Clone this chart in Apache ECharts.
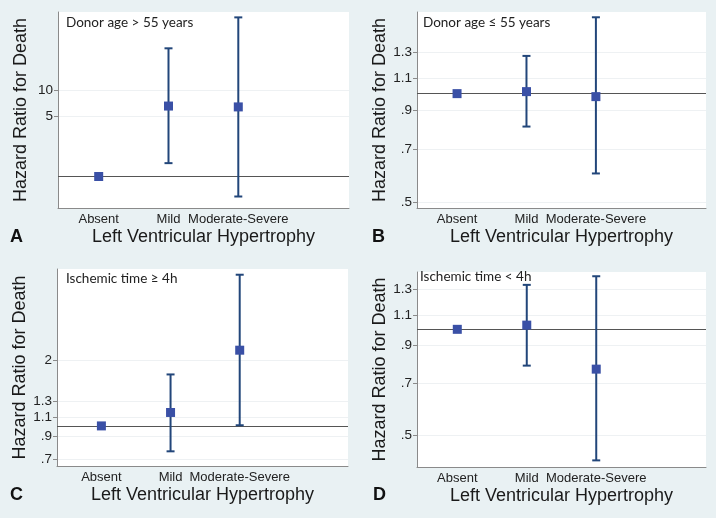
<!DOCTYPE html>
<html>
<head>
<meta charset="utf-8">
<script src="https://cdn.jsdelivr.net/npm/echarts@6/dist/echarts.min.js"></script>
<style>
html,body{margin:0;padding:0;background:#e9f1f3;}
#chart{width:716px;height:518px;}
</style>
</head>
<body>
<div id="chart"></div>
<script>
// ---- Data ----
const categories = ['Absent', 'Mild', 'Moderate-Severe'];

// Panel A: Donor age > 55 years
const hrA = [1, 6.6, 6.45];
const loA = [null, 1.43, 0.585];
const hiA = [null, 31, 71];
const ticksA = [5, 10];

// Panel B: Donor age <= 55 years
const hrB = [1, 1.013, 0.981];
const loB = [null, 0.81, 0.60];
const hiB = [null, 1.273, 1.63];
const ticksB = [0.5, 0.7, 0.9, 1.1, 1.3];

// Panel C: Ischemic time >= 4h
const hrC = [1, 1.153, 2.23];
const loC = [null, 0.764, 1.007];
const hiC = [null, 1.725, 4.96];
const ticksC = [0.7, 0.9, 1.1, 1.3, 2];

// Panel D: Ischemic time < 4h
const hrD = [1, 1.028, 0.770];
const loD = [null, 0.788, 0.423];
const hiD = [null, 1.339, 1.417];
const ticksD = [0.5, 0.7, 0.9, 1.1, 1.3];

const panelTitles = ['Donor age > 55 years', 'Donor age \u2264 55 years', 'Ischemic time \u2265 4h', 'Ischemic time < 4h'];
const panelLetters = ['A', 'B', 'C', 'D'];
const xTitle = 'Left Ventricular Hypertrophy';
const yTitle = 'Hazard Ratio for Death';

// ---- Layout / style ----
const panels = [
  {hr: hrA, lo: loA, hi: hiA, ticks: ticksA, grid: {left: 58, top: 12, width: 291, height: 196}, x: [0.417, 4.586], y: [0.43, 82]},
  {hr: hrB, lo: loB, hi: hiB, ticks: ticksB, grid: {left: 417, top: 12, width: 289, height: 196}, x: [0.423, 4.586], y: [0.481, 1.686]},
  {hr: hrC, lo: loC, hi: hiC, ticks: ticksC, grid: {left: 57, top: 269, width: 291, height: 197}, x: [0.358, 4.566], y: [0.654, 5.27]},
  {hr: hrD, lo: loD, hi: hiD, ticks: ticksD, grid: {left: 417, top: 272, width: 289, height: 195}, x: [0.42, 4.58], y: [0.405, 1.457]}
];
const textPos = [[66, 16], [423, 16], [66, 272], [420, 270]];
const letterPos = [[10, 228], [372, 228], [10, 486], [373, 486]];

const MARK = '#3a50a6';
const BAR = '#22467a';
const FONT = 'Liberation Sans, Arial, sans-serif';

function fmtTick(v) {
  let s = String(Math.round(v * 100) / 100);
  if (s.startsWith('0.')) s = s.slice(1);
  return s;
}

function renderErr(params, api) {
  const x = api.value(0), lo = api.value(1), hi = api.value(2);
  const a = api.coord([x, lo]);
  const b = api.coord([x, hi]);
  const cap = 4;
  const st = {stroke: BAR, lineWidth: 2};
  return {
    type: 'group',
    children: [
      {type: 'line', shape: {x1: a[0], y1: a[1], x2: b[0], y2: b[1]}, style: st},
      {type: 'line', shape: {x1: a[0] - cap, y1: a[1], x2: a[0] + cap, y2: a[1]}, style: st},
      {type: 'line', shape: {x1: b[0] - cap, y1: b[1], x2: b[0] + cap, y2: b[1]}, style: st}
    ]
  };
}

const grid = [], xAxis = [], yAxis = [], series = [], graphic = [];
panels.forEach((p, i) => {
  grid.push(Object.assign({containLabel: false}, p.grid, {backgroundColor: '#ffffff', show: true, borderWidth: 0}));
  xAxis.push({
    type: 'value', gridIndex: i, min: p.x[0], max: p.x[1],
    name: xTitle, nameLocation: 'middle', nameGap: 20,
    nameTextStyle: {fontSize: 18, color: '#1a1a1a', fontFamily: FONT},
    axisLine: {show: true, lineStyle: {color: '#8a8a8a', width: 1}},
    axisTick: {show: false},
    splitLine: {show: false},
    axisLabel: {
      customValues: [1, 2, 3],
      formatter: v => categories[Math.round(v) - 1] || '',
      fontSize: 13, color: '#222', fontFamily: FONT, margin: 5
    }
  });
  yAxis.push({
    type: 'log', logBase: 10, gridIndex: i, min: p.y[0], max: p.y[1],
    name: yTitle, nameLocation: 'middle', nameGap: 28,
    nameTextStyle: {fontSize: 18, color: '#1a1a1a', fontFamily: FONT},
    axisLine: {show: true, lineStyle: {color: '#8a8a8a', width: 1}},
    axisTick: {show: true, length: 4, customValues: p.ticks, lineStyle: {color: '#8a8a8a'}},
    splitLine: {show: true, lineStyle: {color: '#eef1f3', width: 1}},
    axisLabel: {
      customValues: p.ticks,
      formatter: v => fmtTick(v),
      fontSize: 13.5, color: '#222', fontFamily: FONT, margin: 5
    }
  });
  const pts = p.hr.map((v, k) => [k + 1, v]);
  const errs = [];
  p.lo.forEach((l, k) => { if (l != null && p.hi[k] != null) errs.push([k + 1, l, p.hi[k]]); });
  series.push({
    type: 'custom', xAxisIndex: i, yAxisIndex: i, renderItem: renderErr,
    data: errs, encode: {x: 0, y: [1, 2]}, z: 3, silent: true
  });
  series.push({
    type: 'scatter', xAxisIndex: i, yAxisIndex: i, data: pts,
    symbol: 'rect', symbolSize: 9, itemStyle: {color: MARK, opacity: 1}, z: 4, silent: true,
    markLine: {
      silent: true, symbol: ['none', 'none'], label: {show: false},
      lineStyle: {color: '#555', width: 1, type: 'solid'},
      data: [{yAxis: 1}], z: 2, animation: false
    }
  });
  graphic.push({
    type: 'text', left: textPos[i][0], top: textPos[i][1],
    style: {text: panelTitles[i], font: '13.5px Lato, "Open Sans", sans-serif', fill: '#222'}
  });
  graphic.push({
    type: 'text', left: letterPos[i][0], top: letterPos[i][1],
    style: {text: panelLetters[i], font: 'bold 18px ' + FONT, fill: '#111'}
  });
});

const chart = echarts.init(document.getElementById('chart'), null, {renderer: 'canvas'});
chart.setOption({
  backgroundColor: '#e9f1f3',
  animation: false,
  grid, xAxis, yAxis, series, graphic
});
</script>
</body>
</html>
